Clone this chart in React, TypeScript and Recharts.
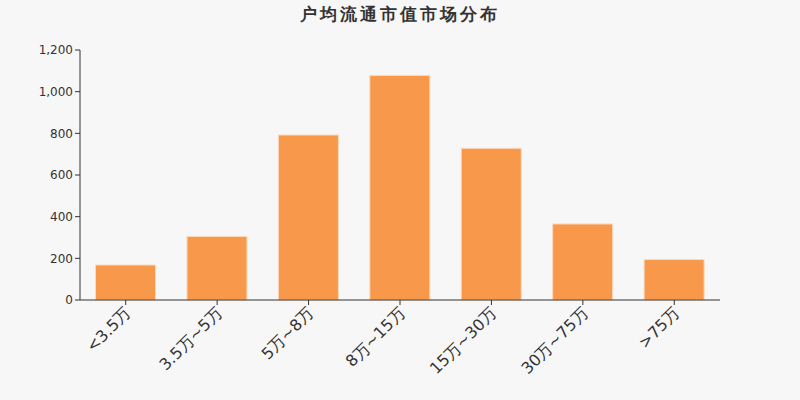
import React from 'react';
import { BarChart, Bar, XAxis, YAxis } from 'recharts';

const categories = ['<3.5万', '3.5万~5万', '5万~8万', '8万~15万', '15万~30万', '30万~75万', '>75万'];
const counts = [168, 305, 792, 1078, 728, 365, 194];
const yTicks = [0, 200, 400, 600, 800, 1000, 1200];

const data = categories.map((name, i) => ({ name, value: counts[i] }));

const AngledTick = (props: any) => {
  const { x, y, payload } = props;
  return (
    <g transform={`translate(${x - 1},${y})`}>
      <text
        textAnchor="end"
        transform="rotate(-45)"
        fontSize={16}
        fill="#333"
        fontFamily="'DejaVu Sans', sans-serif"
        dy={10}
      >
        {payload.value}
      </text>
    </g>
  );
};

export default function App() {
  return (
    <div style={{ position: 'fixed', left: 0, top: 0, width: 800, height: 400, background: '#f7f7f7', fontFamily: "'DejaVu Sans', sans-serif" }}>
      <div style={{ position: 'absolute', top: 3, left: 0, width: 800, textAlign: 'center', fontSize: 17, fontWeight: 'bold', color: '#333', letterSpacing: 3 }}>
        户均流通市值市场分布
      </div>
      <BarChart width={800} height={400} data={data} margin={{ top: 50, right: 80, left: 30, bottom: 0 }} barCategoryGap="17%">
        <XAxis
          dataKey="name"
          interval={0}
          tick={<AngledTick />}
          axisLine={{ stroke: '#333' }}
          tickLine={{ stroke: '#333' }}
          tickSize={5}
          height={100}
        />
        <YAxis
          width={50}
          domain={[0, 1200]}
          ticks={yTicks}
          tickFormatter={(v: number) => v.toLocaleString('en-US')}
          tick={{ fill: '#333', fontSize: 12 }}
          axisLine={{ stroke: '#333' }}
          tickLine={{ stroke: '#333' }}
          tickSize={5}
        />
        <Bar dataKey="value" fill="#f7984a" stroke="#fcd9bd" strokeWidth={1} isAnimationActive={false} />
      </BarChart>
    </div>
  );
}
